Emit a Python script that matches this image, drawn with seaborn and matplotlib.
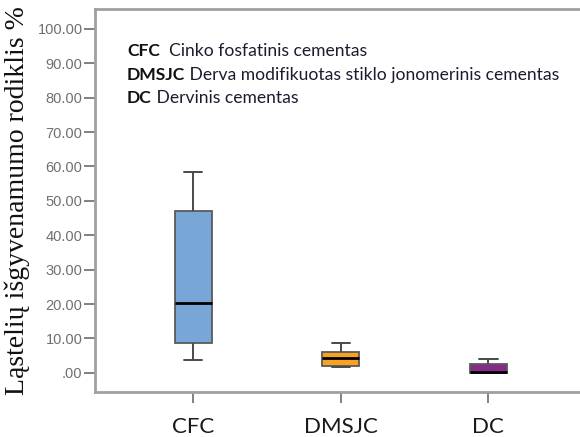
import numpy as np
import pandas as pd
import matplotlib
matplotlib.use("Agg")
import matplotlib.pyplot as plt
import seaborn as sns

# Five-number summaries per cement group: min, Q1, median, Q3, max
groups = ["CFC", "DMSJC", "DC"]
cfc_values = [3.7, 8.7, 20.2, 47.0, 58.5]
dmsjc_values = [1.6, 2.0, 4.2, 6.0, 8.8]
dc_values = [0.0, 0.0, 0.1, 2.6, 3.9]
box_colors = ["#77a6d7", "#f7a223", "#882a88"]

y_ticks = [0, 10, 20, 30, 40, 50, 60, 70, 80, 90, 100]
y_tick_labels = [".00", "10.00", "20.00", "30.00", "40.00", "50.00",
                 "60.00", "70.00", "80.00", "90.00", "100.00"]

legend_abbr = ["CFC", "DMSJC", "DC"]
legend_text = ["  Cinko fosfatinis cementas",
               " Derva modifikuotas stiklo jonomerinis cementas",
               " Dervinis cementas"]

df = pd.DataFrame({
    "group": np.repeat(groups, 5),
    "value": cfc_values + dmsjc_values + dc_values,
})

sns.set_style("white")

fig = plt.figure(figsize=(5.8, 4.37), dpi=100)
ax = fig.add_axes([0.1638, 0.1037, 0.8362, 0.8757])

sns.boxplot(
    data=df, x="group", y="value", hue="group", order=groups,
    palette=box_colors, width=0.25, whis=(0, 100), legend=False,
    linewidth=1.3, linecolor="#4a4a4a", saturation=1, ax=ax,
    medianprops={"color": "black", "linewidth": 2.0},
    whiskerprops={"color": "#4a4a4a", "linewidth": 1.4},
    capprops={"color": "#4a4a4a", "linewidth": 1.4},
    boxprops={"edgecolor": "#5a5a5a"},
)

ax.set_xlim(-0.664, 2.62)
ax.set_ylim(-5.5, 105.8)

ax.set_yticks(y_ticks)
ax.set_yticklabels(y_tick_labels, family="Liberation Sans", fontsize=10.5,
                   color="#707070")
ax.set_xticks(range(len(groups)))
ax.set_xticklabels(groups, family="Lato", fontsize=16, color="#1a1a1a")

ax.tick_params(axis="y", which="major", left=True, length=8, width=1.3,
               color="#777777", pad=1, direction="out")
ax.tick_params(axis="x", which="major", bottom=True, length=8, width=1.3,
               color="#777777", pad=10, direction="out")

for side in ["left", "top", "bottom"]:
    ax.spines[side].set_color("#a0a0a0")
    ax.spines[side].set_linewidth(2)
ax.spines["right"].set_visible(False)

ax.set_xlabel("")
ax.set_ylabel("Ląstelių išgyvenamumo rodiklis %", family="Liberation Serif",
              fontsize=20, color="#111111", labelpad=5)

# Abbreviation key in the upper left of the plot area
y_rows = [0.890, 0.828, 0.768]
for abbr, text, yy in zip(legend_abbr, legend_text, y_rows):
    t = ax.text(0.066, yy, abbr, transform=ax.transAxes, family="Lato",
                fontsize=12.6, fontweight="bold", color="#111111",
                va="center", ha="left")
    fig.canvas.draw()
    bb = t.get_window_extent()
    x_end = ax.transAxes.inverted().transform((bb.x1, bb.y0))[0]
    ax.text(x_end, yy, text, transform=ax.transAxes, family="Lato",
            fontsize=12.6, color="#1c1c30", va="center", ha="left")

fig.savefig("out.png", dpi=100)
